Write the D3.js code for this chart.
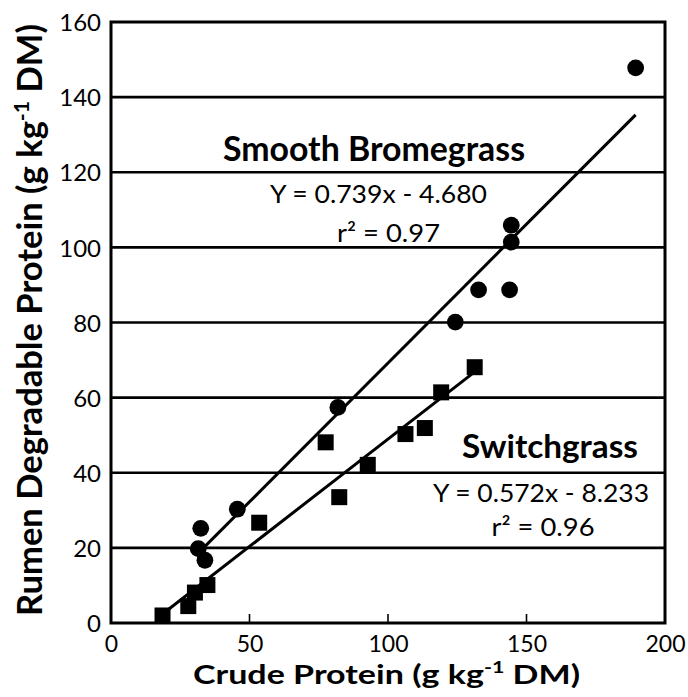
<!DOCTYPE html>
<html>
<head>
<meta charset="utf-8">
<script src="https://cdn.jsdelivr.net/npm/d3@7"></script>
<style>
  html, body { margin: 0; padding: 0; background: #fff; }
  svg { display: block; }
  text { font-family: Lato, "Open Sans", sans-serif; fill: #000; }
</style>
</head>
<body>
<script>
// ---- Data ----
const bromeX = [31.5, 32.4, 33.9, 45.6, 81.9, 124.3, 132.7, 143.9, 144.5, 144.5, 189.4];
const bromeY = [19.8, 25.2, 16.7, 30.3, 57.4, 80.1, 88.7, 88.7, 101.4, 105.9, 147.8];
const switchX = [18.6, 27.9, 30.3, 34.8, 53.5, 77.5, 82.4, 92.7, 106.3, 113.3, 119.2, 131.3];
const switchY = [2.0, 4.5, 8.1, 10.1, 26.7, 48.1, 33.5, 42.1, 50.3, 51.9, 61.4, 68.1];
const seriesNames = ["Smooth Bromegrass", "Switchgrass"];
const slopes = [0.739, 0.572];
const intercepts = [-4.680, -8.233];
const equations = ["Y = 0.739x - 4.680", "Y = 0.572x - 8.233"];
const rSquared = ["r² = 0.97", "r² = 0.96"];
const xTicks = [0, 50, 100, 150, 200];
const yTicks = [0, 20, 40, 60, 80, 100, 120, 140, 160];

const W = 688, H = 697;
const svg = d3.select("body").append("svg").attr("width", W).attr("height", H);

const x = d3.scaleLinear().domain([0, 200]).range([111, 665]);
const y = d3.scaleLinear().domain([0, 160]).range([623, 22]);

// Gridlines
svg.append("g").selectAll("line").data(yTicks.filter(d => d > 0 && d < 160)).join("line")
  .attr("x1", x(0)).attr("x2", x(200))
  .attr("y1", d => y(d)).attr("y2", d => y(d))
  .attr("stroke", "#000").attr("stroke-width", 2.7);

// Bottom ticks (inward)
svg.append("g").selectAll("line").data(xTicks.filter(d => d > 0 && d < 200)).join("line")
  .attr("x1", d => x(d)).attr("x2", d => x(d))
  .attr("y1", y(0)).attr("y2", y(0) - 9)
  .attr("stroke", "#000").attr("stroke-width", 1.6);

// Frame
svg.append("rect")
  .attr("x", x(0)).attr("y", y(160))
  .attr("width", x(200) - x(0)).attr("height", y(0) - y(160))
  .attr("fill", "none").attr("stroke", "#000").attr("stroke-width", 3);

// Axis tick labels via d3 axes (domain/ticks hidden, labels styled)
const xAxis = d3.axisBottom(x).tickValues(xTicks).tickSize(0).tickPadding(0);
const gx = svg.append("g").attr("transform", `translate(0,${y(0)})`).call(xAxis);
gx.select(".domain").remove();
gx.selectAll("text").attr("font-family", "Lato, sans-serif").attr("font-size", 23)
  .attr("fill", "#000").attr("y", 29).attr("dy", null);

const yAxis = d3.axisLeft(y).tickValues(yTicks).tickSize(0).tickPadding(0);
const gy = svg.append("g").attr("transform", `translate(${x(0)},0)`).call(yAxis);
gy.select(".domain").remove();
gy.selectAll("text").attr("font-family", "Lato, sans-serif").attr("font-size", 24)
  .attr("fill", "#000").attr("x", -10).attr("dy", "0.36em");

// Regression lines
const series = [
  { xs: bromeX, ys: bromeY },
  { xs: switchX, ys: switchY }
];
series.forEach((s, i) => {
  const x0 = d3.min(s.xs), x1 = d3.max(s.xs);
  svg.append("line")
    .attr("x1", x(x0)).attr("y1", y(slopes[i] * x0 + intercepts[i]))
    .attr("x2", x(x1)).attr("y2", y(slopes[i] * x1 + intercepts[i]))
    .attr("stroke", "#000").attr("stroke-width", 3);
});

// Points: circles (Smooth Bromegrass)
svg.append("g").selectAll("circle").data(d3.range(bromeX.length)).join("circle")
  .attr("cx", i => x(bromeX[i])).attr("cy", i => y(bromeY[i])).attr("r", 8.4)
  .attr("fill", "#000");

// Points: squares (Switchgrass)
const sq = 16;
svg.append("g").selectAll("rect").data(d3.range(switchX.length)).join("rect")
  .attr("x", i => x(switchX[i]) - sq / 2).attr("y", i => y(switchY[i]) - sq / 2)
  .attr("width", sq).attr("height", sq).attr("fill", "#000");

// Annotations
function label(txt, cx, base, size, weight, len) {
  svg.append("text").attr("x", cx).attr("y", base)
    .attr("text-anchor", "middle").attr("font-size", size).attr("font-weight", weight)
    .attr("textLength", len).attr("lengthAdjust", "spacingAndGlyphs")
    .text(txt);
}
label(seriesNames[0], 374, 161, 34, 700, 302);
label(equations[0], 378.5, 203, 25, 400, 217);
label(rSquared[0], 388.5, 241.5, 25, 400, 103);
label(seriesNames[1], 550, 458, 32, 700, 176);
label(equations[1], 541, 502, 25, 400, 216);
label(rSquared[1], 543, 536, 25, 400, 103);

// Axis titles
const xt = svg.append("text").attr("x", 386.5).attr("y", 684)
  .attr("text-anchor", "middle").attr("font-size", 27).attr("font-weight", 700)
  .attr("textLength", 387).attr("lengthAdjust", "spacingAndGlyphs");
xt.append("tspan").text("Crude Protein (g kg");
xt.append("tspan").attr("font-size", 17).attr("dy", -11).text("-1");
xt.append("tspan").attr("dy", 11).text(" DM)");

const yt = svg.append("text")
  .attr("transform", "translate(42,320) rotate(-90)")
  .attr("text-anchor", "middle").attr("font-size", 34).attr("font-weight", 700)
  .attr("textLength", 592).attr("lengthAdjust", "spacingAndGlyphs");
yt.append("tspan").text("Rumen Degradable Protein (g kg");
yt.append("tspan").attr("font-size", 21).attr("dy", -13).text("-1");
yt.append("tspan").attr("dy", 13).text(" DM)");
</script>
</body>
</html>
